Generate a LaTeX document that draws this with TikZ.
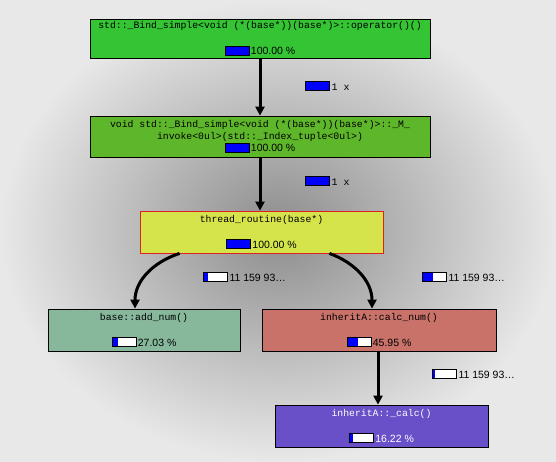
\documentclass[tikz,border=0pt]{standalone}
\usepackage{fontspec}
\setmainfont{Liberation Sans}
\setmonofont{Liberation Mono}
\usetikzlibrary{arrows.meta}

\definecolor{bgdark}{RGB}{140,140,140}
\definecolor{bglight}{RGB}{232,232,232}
\definecolor{barblue}{RGB}{0,0,255}
\definecolor{fillA}{RGB}{52,196,52}
\definecolor{fillB}{RGB}{94,182,42}
\definecolor{fillC}{RGB}{214,228,76}
\definecolor{fillD}{RGB}{136,184,156}
\definecolor{fillE}{RGB}{200,114,106}
\definecolor{fillF}{RGB}{106,80,200}
\definecolor{edgeC}{RGB}{224,32,32}

% progress bar: #1 = filled fraction
\newcommand{\pbar}[1]{\tikz[baseline=0.5pt]{%
    \fill[white] (0,0) rectangle (24pt,9pt);
    \fill[barblue] (0,0) rectangle ({#1*24pt},9pt);
    \draw[black, line width=0.8pt] (0,0) rectangle (24pt,9pt);}\hspace{1.5pt}}
% percentage / count text
\newcommand{\pcttext}[1]{\textrm{\fontsize{10.5}{12}\selectfont #1}}

\begin{document}
\begin{tikzpicture}[
    x=1pt, y=-1pt,
    box/.style={draw=black, line width=0.8pt, align=center, inner sep=1pt,
        font=\fontsize{9.8}{12}\ttfamily},
    call/.style={line width=3pt, -{Triangle[length=9pt, width=9pt]}},
    elabel/.style={anchor=west, inner sep=0pt, font=\fontsize{10}{12}\ttfamily}
]
\shade[inner color=bgdark, outer color=bglight] (0,0) rectangle (556,461);
\useasboundingbox (0,0) rectangle (556,461);

% call graph boxes
\node[box, fill=fillA, minimum width=340pt, minimum height=39pt] (b1) at (260,38.5)
    {std::\_Bind\_simple<void (*(base*))(base*)>::operator()()\\[14pt]
     \pbar{1}\pcttext{100.00 \%}};
\node[box, fill=fillB, minimum width=340pt, minimum height=41pt] (b2) at (260,136.5)
    {void std::\_Bind\_simple<void (*(base*))(base*)>::\_M\_\\
     invoke<0ul>(std::\_Index\_tuple<0ul>)\\
     \pbar{1}\pcttext{100.00 \%}};
\node[box, draw=edgeC, fill=fillC, minimum width=243pt, minimum height=42pt] (b3) at (261.5,232)
    {thread\_routine(base*)\\[14pt]
     \pbar{1}\pcttext{100.00 \%}};
\node[box, fill=fillD, minimum width=192pt, minimum height=42pt] (b4) at (144,330)
    {base::add\_num()\\[14pt]
     \pbar{0.27}\pcttext{27.03 \%}};
\node[box, fill=fillE, minimum width=234pt, minimum height=42pt] (b5) at (379,330)
    {inheritA::calc\_num()\\[14pt]
     \pbar{0.46}\pcttext{45.95 \%}};
\node[box, fill=fillF, text=white, minimum width=213pt, minimum height=42pt] (b6) at (381.5,426)
    {inheritA::\_calc()\\[14pt]
     \pbar{0.16}\pcttext{16.22 \%}};

% calls
\draw[call] (b1.south) -- (b1.south |- b2.north);
\draw[call] (b2.south) -- (b2.south |- b3.north);
\draw[call] ([xshift=40pt]b3.south west) to[out=198, in=90] ([xshift=-9pt]b4.north);
\draw[call] ([xshift=-54pt]b3.south east) to[out=-20, in=90] ([xshift=-7pt]b5.north);
\draw[call] ([xshift=-1pt]b5.south) -- ([xshift=-1pt]b5.south |- b6.north);

% call counts
\node[elabel] (n12) at (305,86) {\pbar{1}1 x};
\node[elabel] (n23) at (305,181) {\pbar{1}1 x};
\node[elabel] (n34) at (203,277) {\pbar{0.2}\pcttext{11 159 93\dots}};
\node[elabel] (n35) at (422,277) {\pbar{0.45}\pcttext{11 159 93\dots}};
\node[elabel] (n56) at (432,374) {\pbar{0.12}\pcttext{11 159 93\dots}};
\end{tikzpicture}
\end{document}
